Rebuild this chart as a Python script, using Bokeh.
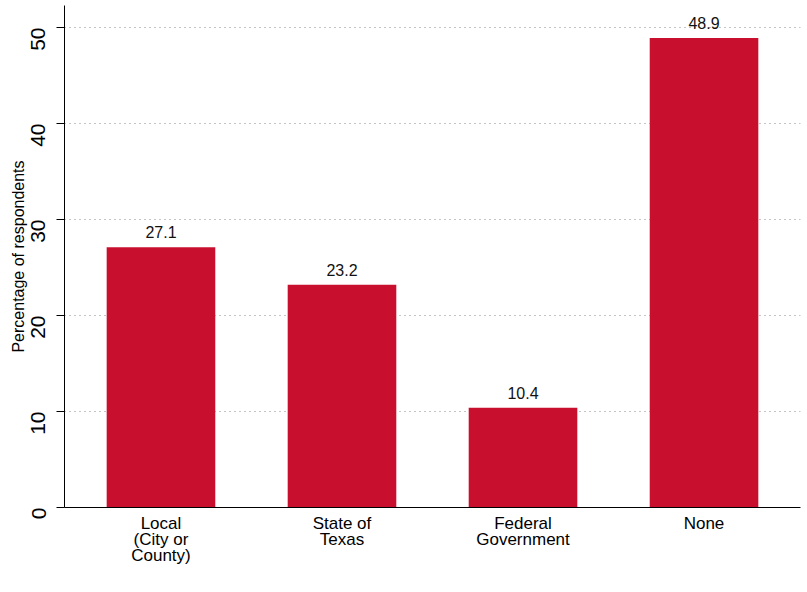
import math
from bokeh.plotting import figure
from bokeh.models import ColumnDataSource, FixedTicker, Range1d
from bokeh.embed import file_html
from bokeh.resources import INLINE

categories = ["Local\n(City or\nCounty)", "State of\nTexas", "Federal\nGovernment", "None"]
values = [27.1, 23.2, 10.4, 48.9]
y_ticks = [0, 10, 20, 30, 40, 50]

xs = list(range(1, len(categories) + 1))
src = ColumnDataSource(dict(x=xs, top=values, lab=[f"{v:.1f}" for v in values]))

FONT = "Liberation Sans"
p = figure(width=804, height=584, output_backend="svg", toolbar_location=None,
           x_range=Range1d(0.467, 4.533), y_range=Range1d(0, 52.29),
           min_border_left=64, min_border_right=4, min_border_top=5, min_border_bottom=77)
p.outline_line_color = None
p.background_fill_color = "white"
p.border_fill_color = "white"

p.vbar(x="x", top="top", width=0.6, bottom=0, source=src,
       fill_color="#C8102E", line_color=None)
p.text(x="x", y="top", text="lab", source=src, text_align="center",
       text_baseline="bottom", y_offset=-9, text_font_size="16px",
       text_font={"value": FONT}, text_color="#111111")

# y axis
p.yaxis.ticker = FixedTicker(ticks=y_ticks)
p.yaxis.major_label_orientation = math.pi / 2
p.yaxis.major_label_text_font_size = "21px"
p.yaxis.major_label_text_font = FONT
p.yaxis.major_label_text_color = "black"
p.yaxis.major_label_standoff = 18
p.yaxis.major_tick_out = 8
p.yaxis.major_tick_in = 0
p.yaxis.minor_tick_line_color = None
p.yaxis.axis_line_color = "black"
p.yaxis.major_tick_line_color = "black"
p.yaxis.axis_label = "Percentage of respondents"
p.yaxis.axis_label_text_font = FONT
p.yaxis.axis_label_text_font_style = "normal"
p.yaxis.axis_label_text_font_size = "16px"
p.yaxis.axis_label_text_color = "black"
p.yaxis.axis_label_standoff = -5

# x axis
p.xaxis.ticker = FixedTicker(ticks=xs)
p.xaxis.major_label_overrides = {x: c for x, c in zip(xs, categories)}
p.xaxis.major_label_text_font = FONT
p.xaxis.major_label_text_font_size = "17px"
p.xaxis.major_label_text_line_height = 0.85
p.xaxis.major_label_text_color = "black"
p.xaxis.major_tick_line_color = None
p.xaxis.minor_tick_line_color = None
p.xaxis.axis_line_color = "black"
p.xaxis.major_label_standoff = 0

p.xgrid.grid_line_color = None
p.ygrid.ticker = FixedTicker(ticks=y_ticks)
p.ygrid.grid_line_color = "#888888"
p.ygrid.grid_line_dash = "1 4"
p.ygrid.grid_line_width = 1

open("out.html", "w").write(file_html(p, INLINE))
